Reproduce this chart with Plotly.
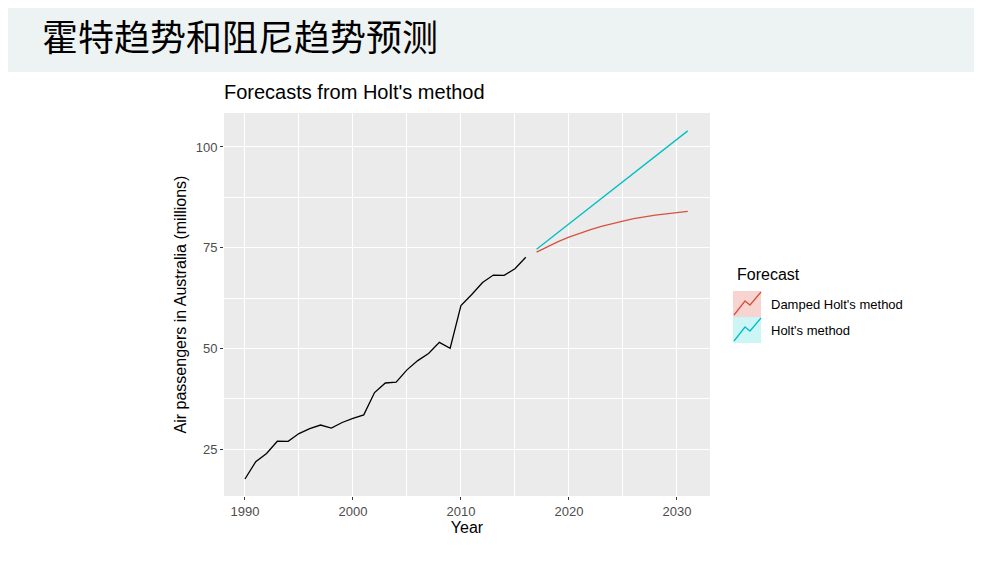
import plotly.graph_objects as go

years = [1990, 1991, 1992, 1993, 1994, 1995, 1996, 1997, 1998, 1999,
         2000, 2001, 2002, 2003, 2004, 2005, 2006, 2007, 2008, 2009,
         2010, 2011, 2012, 2013, 2014, 2015, 2016]
passengers = [17.55, 21.86, 23.89, 26.93, 26.89, 28.83, 30.08, 30.95, 30.19, 31.58,
              32.58, 33.48, 39.02, 41.39, 41.60, 44.66, 46.95, 48.73, 51.49, 50.03,
              60.64, 63.36, 66.36, 68.20, 68.12, 69.78, 72.60]

# forecasts 2017-2031
fc_years = [2017, 2018, 2019, 2020, 2021, 2022, 2023, 2024, 2025, 2026,
            2027, 2028, 2029, 2030, 2031]
holt = [74.6, 76.7, 78.8, 80.9, 83.0, 85.1, 87.2, 89.3, 91.4, 93.5,
        95.6, 97.7, 99.8, 101.9, 104.0]
damped = [73.9, 75.3, 76.5, 77.6, 78.6, 79.5, 80.3, 81.0, 81.6, 82.2,
          82.7, 83.1, 83.4, 83.7, 84.0]

legend_names = ["Damped Holt's method", "Holt's method"]
red = "#D4533F"
cyan = "#00BFC4"

# the page puts an 8px body margin round the figure, so work in page pixels
# and shift everything back by that much
OFF = 8
W, H = 982 - 2 * OFF, 566 - 2 * OFF
L, R, T, B = 224 - OFF, 710 - OFF, 113 - OFF, 496 - OFF  # panel box


def px(x, y):
    # page pixel position -> paper coordinates
    return (x - OFF - L) / (R - L), (B - (y - OFF)) / (B - T)


font = "Liberation Sans, Arial, sans-serif"

fig = go.Figure()
fig.add_trace(go.Scatter(x=years, y=passengers, mode="lines",
                         line=dict(color="black", width=1.3), showlegend=False))
fig.add_trace(go.Scatter(x=fc_years, y=damped, mode="lines", name=legend_names[0],
                         line=dict(color=red, width=1.3), showlegend=False))
fig.add_trace(go.Scatter(x=fc_years, y=holt, mode="lines", name=legend_names[1],
                         line=dict(color=cyan, width=1.3), showlegend=False))

shapes = []
annotations = []

# header band
x0, y1 = px(0, 0)
x1, y0 = px(982, 72)
shapes.append(dict(type="rect", xref="paper", yref="paper", x0=x0, x1=x1, y0=y0, y1=y1,
                   fillcolor="#EDF2F2", line=dict(width=0), layer="below"))
hx, hy = px(40, 35)
annotations.append(dict(text="霍特趋势和阻尼趋势预测", xref="paper", yref="paper",
                        x=hx, y=hy, xanchor="left", yanchor="middle", showarrow=False,
                        font=dict(family="Noto Sans CJK SC", size=36, color="black")))

# legend drawn by hand (ggplot style keys)
tx, ty = px(735, 274)
annotations.append(dict(text="Forecast", xref="paper", yref="paper", x=tx, y=ty,
                        xanchor="left", yanchor="middle", showarrow=False,
                        font=dict(family=font, size=16, color="black")))
keys = [(291, "#F8D4D1", red), (317, "#CCF5F6", cyan)]
for i, (top, fill, col) in enumerate(keys):
    kx0, ky1 = px(733, top)
    kx1, ky0 = px(761, top + 26)
    shapes.append(dict(type="rect", xref="paper", yref="paper", x0=kx0, x1=kx1,
                       y0=ky0, y1=ky1, fillcolor=fill, line=dict(width=0)))
    pts = [px(734, top + 24), px(745, top + 10), px(750, top + 14), px(761, top + 1)]
    path = "M " + " L ".join(f"{a},{b}" for a, b in pts)
    shapes.append(dict(type="path", xref="paper", yref="paper", path=path,
                       line=dict(color=col, width=1.3)))
    lx, ly = px(769, top + 13)
    annotations.append(dict(text=legend_names[i], xref="paper", yref="paper", x=lx, y=ly,
                            xanchor="left", yanchor="middle", showarrow=False,
                            font=dict(family=font, size=13, color="black")))

fig.update_layout(
    width=W, height=H,
    margin=dict(l=L, r=W - R, t=T, b=H - B, pad=0),
    paper_bgcolor="white",
    plot_bgcolor="#EBEBEB",
    font=dict(family=font, color="black"),
    title=dict(text="Forecasts from Holt's method", xref="paper", x=0, xanchor="left",
               yref="container", y=1 - (92 - OFF) / H, yanchor="middle",
               font=dict(family=font, size=20, color="black")),
    shapes=shapes,
    annotations=annotations,
    showlegend=False,
)
fig.update_xaxes(
    range=[1988.06, 2033.06], tick0=1990, dtick=10, showgrid=True,
    gridcolor="white", gridwidth=1.2, zeroline=False,
    ticks="outside", ticklen=3, tickcolor="#333333",
    tickfont=dict(size=13, color="#4D4D4D"),
    minor=dict(dtick=5, showgrid=True, gridcolor="white", gridwidth=0.6),
    title=dict(text="Year", font=dict(size=16, color="black"), standoff=4),
)
fig.update_yaxes(
    range=[13.33, 108.44], tick0=0, dtick=25, showgrid=True,
    gridcolor="white", gridwidth=1.2, zeroline=False,
    ticks="outside", ticklen=3, tickcolor="#333333",
    tickfont=dict(size=13, color="#4D4D4D"),
    minor=dict(dtick=12.5, showgrid=True, gridcolor="white", gridwidth=0.6),
    title=dict(text="Air passengers in Australia (millions)",
               font=dict(size=16, color="black"), standoff=5),
)

fig.write_html("out.html")
